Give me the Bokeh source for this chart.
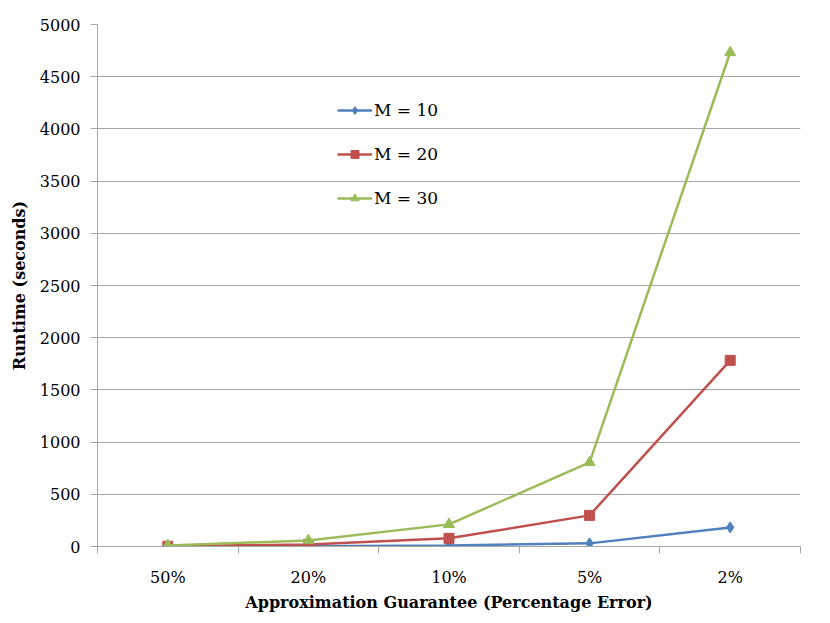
from bokeh.plotting import figure
from bokeh.models import FixedTicker, Legend, LegendItem, Range1d
from bokeh.embed import file_html
from bokeh.resources import INLINE

categories = ["50%", "20%", "10%", "5%", "2%"]
m10 = [1, 3, 10, 30, 183]
m20 = [2, 20, 78, 298, 1783]
m30 = [10, 58, 212, 805, 4732]
series_names = ["M = 10", "M = 20", "M = 30"]
y_ticks = list(range(0, 5001, 500))

FONT = "DejaVu Serif"
GRID = "#a6a6a6"

xs = [i + 0.5 for i in range(len(categories))]

p = figure(frame_width=703, frame_height=522, output_backend="svg",
           toolbar_location=None, x_range=Range1d(0, len(categories)),
           y_range=Range1d(0, 5000),
           min_border_left=97, min_border_right=22, min_border_top=24,
           min_border_bottom=68)
p.outline_line_color = None
p.background_fill_color = "white"

p.xgrid.grid_line_color = None
p.ygrid.ticker = FixedTicker(ticks=y_ticks)
p.ygrid.grid_line_color = GRID
p.ygrid.grid_line_width = 1.2

# y axis
p.yaxis.ticker = FixedTicker(ticks=y_ticks)
p.yaxis.axis_line_color = GRID
p.yaxis.major_tick_line_color = GRID
p.yaxis.major_tick_in = 0
p.yaxis.major_tick_out = 7
p.yaxis.minor_tick_line_color = None
p.yaxis.major_label_text_font = FONT
p.yaxis.major_label_text_font_size = "16px"
p.yaxis.major_label_text_color = "black"
p.yaxis.major_label_standoff = 10
p.yaxis.axis_label = "Runtime (seconds)"
p.yaxis.axis_label_text_font = FONT
p.yaxis.axis_label_text_font_style = "bold"
p.yaxis.axis_label_text_font_size = "16px"
p.yaxis.axis_label_text_color = "black"
p.yaxis.axis_label_standoff = 8

# x axis
p.xaxis.ticker = FixedTicker(ticks=xs, minor_ticks=list(range(len(categories) + 1)))
p.xaxis.major_label_overrides = {x: c for x, c in zip(xs, categories)}
p.xaxis.axis_line_color = GRID
p.xaxis.major_tick_line_color = None
p.xaxis.minor_tick_line_color = GRID
p.xaxis.minor_tick_in = 0
p.xaxis.minor_tick_out = 7
p.xaxis.major_label_text_font = FONT
p.xaxis.major_label_text_font_size = "16px"
p.xaxis.major_label_text_color = "black"
p.xaxis.major_label_standoff = 14
p.xaxis.axis_label = "Approximation Guarantee (Percentage Error)"
p.xaxis.axis_label_text_font = FONT
p.xaxis.axis_label_text_font_style = "bold"
p.xaxis.axis_label_text_font_size = "16px"
p.xaxis.axis_label_text_color = "black"
p.xaxis.axis_label_standoff = 3

colors = ["#4F81BD", "#C0504D", "#9BBB59"]
markers = ["diamond", "square", "triangle"]
sizes = [11, 10, 11]
items = []
for name, vals, c, mk, sz in zip(series_names, [m10, m20, m30], colors, markers, sizes):
    l = p.line(xs, vals, line_color=c, line_width=2.5)
    s = p.scatter(xs, vals, marker=mk, size=sz, fill_color=c, line_color=c)
    items.append(LegendItem(label=name, renderers=[l, s]))

legend = Legend(items=items, location=(240, 338), padding=0, margin=0,
                spacing=24, glyph_width=35, glyph_height=20, label_height=20,
                label_standoff=2, border_line_color=None,
                background_fill_alpha=0, label_text_color="black",
                label_text_font=FONT, label_text_font_size="17px")
p.add_layout(legend, "center")

open("out.html", "w").write(file_html(p, INLINE))
